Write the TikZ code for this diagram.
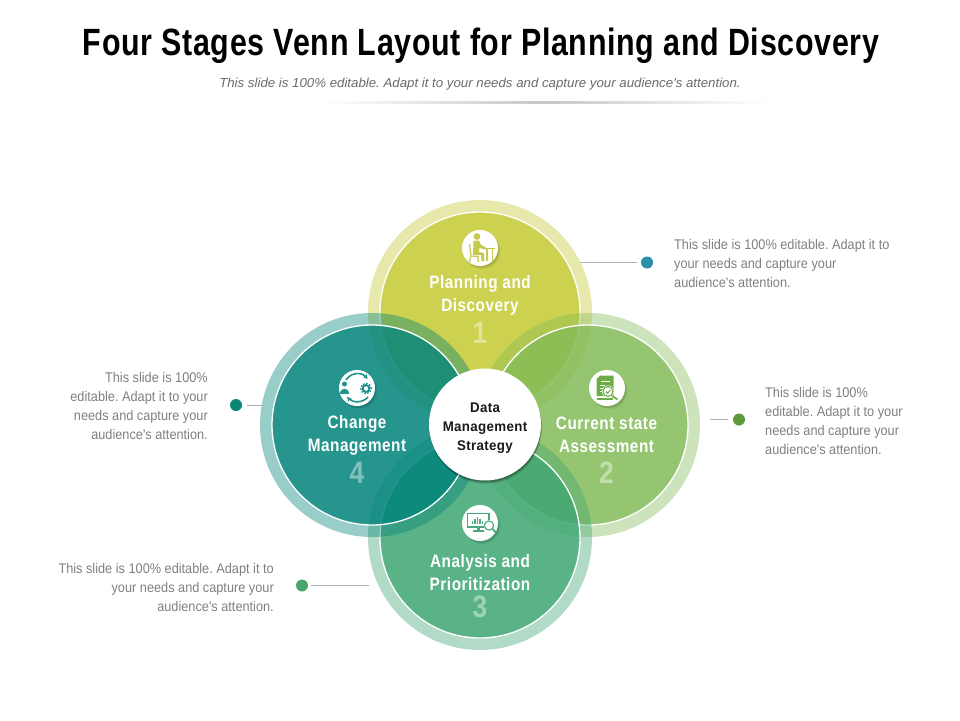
\documentclass[tikz,border=0pt]{standalone}
\usepackage{fontspec}
\usetikzlibrary{arrows.meta}
\setmainfont{Liberation Sans}
\newfontfamily\titlef[FakeStretch=.80,LetterSpace=1.85]{Liberation Sans}
\newfontfamily\headf[FakeStretch=.85,LetterSpace=3]{Liberation Sans}
\newfontfamily\hubf[FakeStretch=.95,LetterSpace=2.5]{Liberation Sans}
\newfontfamily\bodyf[FakeStretch=.91]{Liberation Sans}
\newfontfamily\subf[FakeStretch=1.02]{Liberation Sans}
\frenchspacing
\definecolor{cTop}{RGB}{196,201,49}
\definecolor{cRight}{RGB}{131,187,87}
\definecolor{cBottom}{RGB}{62,166,115}
\definecolor{cLeft}{RGB}{0,131,123}
\definecolor{icT}{RGB}{197,202,74}
\definecolor{icR}{RGB}{108,173,69}
\definecolor{icB}{RGB}{76,167,124}
\definecolor{icL}{RGB}{31,147,140}
\definecolor{d1c}{RGB}{42,143,168}
\definecolor{d2c}{RGB}{94,154,60}
\definecolor{d3c}{RGB}{76,165,107}
\definecolor{d4c}{RGB}{14,133,118}
\tikzset{
  x=1pt,y=-1pt,
  ringfill/.style={fill=#1,fill opacity=.4,even odd rule},
  discfill/.style={fill=#1,fill opacity=.85},
  discline/.style={draw=white,line width=1.3pt},
  headtext/.style={text=white,align=center,font=\headf\bfseries\fontsize{18}{23}\selectfont,inner sep=0pt},
  numtext/.style={text=white,text opacity=.42,font=\headf\bfseries\fontsize{31}{31}\selectfont,inner sep=0pt},
  bodytext/.style={text=black!50,font=\bodyf\fontsize{14}{19}\selectfont,inner sep=0pt},
  dotmark/.style={circle,fill=#1,minimum size=12pt,inner sep=0pt},
  leader/.style={draw=black!32,line width=.7pt},
  iconbg/.style={circle,fill=white,minimum size=36pt,inner sep=0pt},
}
\newcommand{\softshadow}[3]{%
  \fill[black,fill opacity=.06] (#1+2.5,#2+3) circle (#3);
  \fill[black,fill opacity=.10] (#1+1.5,#2+2) circle (#3);
}
\begin{document}
\begin{tikzpicture}
\useasboundingbox (0,0) rectangle (960,720);
\fill[white] (0,0) rectangle (960,720);
\coordinate (cT) at (480,312);
\coordinate (cR) at (588,425);
\coordinate (cB) at (480,538);
\coordinate (cL) at (372,425);

% title
\node[font=\titlef\bfseries\fontsize{38}{38}\selectfont,text=black,inner sep=0pt] (title) at (481,46) {Four Stages Venn Layout for Planning and Discovery};
\node[font=\subf\itshape\fontsize{13}{13}\selectfont,text=black!58,inner sep=0pt] (sub) at (480,84) {This slide is 100\% editable. Adapt it to your needs and capture your audience's attention.};
\shade[left color=white,right color=white,middle color=black!22] (320,101) rectangle (770,103);

% venn
\foreach \c/\k in {cT/cTop,cR/cRight,cB/cBottom,cL/cLeft}{
  \fill[ringfill=\k] (\c) circle (112pt) (\c) circle (100pt);
  \fill[discfill=\k] (\c) circle (100pt);
  \draw[discline] (\c) circle (100pt);
}

% centre
\fill[black,fill opacity=.12] (486,428) circle (56pt);
\fill[black,fill opacity=.28] (485.5,426.5) circle (56pt);
\node[circle,fill=white,minimum size=112pt,inner sep=0pt] (hub) at (485,424.5) {};
\node[align=center,text=black!90,font=\hubf\bfseries\fontsize{14}{19}\selectfont,inner sep=0pt] (hubtext) at (485,428) {Data\\Management\\Strategy};

% icon 1
\softshadow{480}{248}{18pt}
\node[iconbg] (i1) at (480,248) {};
\fill[icT] (477,236.5) circle (3.4pt);
\fill[icT] (473.5,241) -- (479,240.5) -- (481,245) -- (486,247.5) -- (485.5,249.5) -- (479.5,248) -- (479,252) -- (484,253) -- (484.5,261) -- (481.5,261) -- (481,255) -- (473,255) -- cycle;
\draw[icT,line width=1.2pt] (469.5,244) -- (471,256) -- (479,256.5) (471,256) -- (469.5,262) (477.5,256.5) -- (478.5,262);
\draw[icT,line width=1.6pt] (482,248.5) -- (495,248.5);
\draw[icT,line width=1.2pt] (487,248.5) -- (487,261) (492.5,248.5) -- (492.5,261);

% icon 4
\softshadow{357}{388}{18pt}
\node[iconbg] (i4) at (357,388) {};
\draw[icL,line width=1.6pt,-{Stealth[length=4.5pt,width=5pt]}] (346,380) .. controls (351,372) and (362,372) .. (367.5,379);
\draw[icL,line width=1.6pt,-{Stealth[length=4.5pt,width=5pt]}] (368,397) .. controls (363,403) and (353,403) .. (347,397);
\fill[icL] (344.5,384) circle (2.5pt);
\fill[icL] (340,393.5) .. controls (340,386.5) and (349,386.5) .. (349,393.5) -- cycle;
\draw[icL,line width=2pt] (366,388.5) circle (3.4pt);
\draw[icL,line width=1.3pt,dash pattern=on 1.6pt off 1.6pt] (366,388.5) circle (5.3pt);

% icon 2
\softshadow{607}{388}{18pt}
\node[iconbg] (i2) at (607,388) {};
\fill[icR] (600,375.5) -- (613.5,375.5) -- (613.5,396) -- (596.5,396) -- (596.5,379) -- cycle;
\draw[white,line width=.7pt] (601,381) -- (610,381) (600,385) -- (605,385) (600,388) -- (603,388) (600,391) -- (603,391);
\draw[icR,line width=1.4pt] (597,399) -- (613,399);
\draw[icR,line width=1.8pt] (611.5,395.5) -- (617.5,399.5);
\fill[white] (608,391.5) circle (6pt);
\draw[icR,line width=1.1pt] (608,391.5) circle (5pt);
\draw[icR,line width=1pt] (605.8,391.5) -- (607.5,393.2) -- (610.4,389.8);

% icon 3
\softshadow{480}{523}{18pt}
\node[iconbg] (i3) at (480,523) {};
\draw[icB,line width=1.6pt] (467.5,513.5) rectangle (489,527);
\fill[icB] (477,527) rectangle (479.5,531);
\draw[icB,line width=1.5pt] (473,531) -- (484,531);
\draw[icB,line width=1.3pt] (472.5,524) -- (472.5,521) (475,524) -- (475,519) (477.5,524) -- (477.5,517) (480,524) -- (480,518.5) (482.5,524) -- (482.5,520.5);
\fill[white] (489,525.5) circle (5.5pt);
\draw[icB,line width=1.1pt] (489,525.5) circle (4.6pt);
\draw[icB,line width=1.8pt] (492.5,529) -- (496,532.5);

% labels
\node[headtext] (h1) at (480,295.5) {Planning and\\Discovery};
\node[numtext] (n1) at (480,333) {1};
\node[headtext] (h2) at (606.5,435) {Current state\\Assessment};
\node[numtext] (n2) at (606.5,473) {2};
\node[headtext] (h3) at (480,572.5) {Analysis and\\Prioritization};
\node[numtext] (n3) at (480,607) {3};
\node[headtext] (h4) at (357,435) {Change\\Management};
\node[numtext] (n4) at (357,473) {4};

% side text
\node[bodytext,align=left,anchor=west] (t1) at (674,263) {This slide is 100\% editable. Adapt it to\\your needs and capture your\\audience's attention.};
\node[bodytext,align=left,anchor=west] (t2) at (765,420.5) {This slide is 100\%\\editable. Adapt it to your\\needs and capture your\\audience's attention.};
\node[bodytext,align=right,anchor=east] (t4) at (208,405.5) {This slide is 100\%\\editable. Adapt it to your\\needs and capture your\\audience's attention.};
\node[bodytext,align=right,anchor=east] (t3) at (274,587) {This slide is 100\% editable. Adapt it to\\your needs and capture your\\audience's attention.};

% dots and leaders
\node[dotmark=d1c] (d1) at (647,262.5) {};
\node[dotmark=d2c] (d2) at (739,419.5) {};
\node[dotmark=d3c] (d3) at (302,585.5) {};
\node[dotmark=d4c] (d4) at (236,405) {};
\coordinate (e1) at (580,262.5);
\coordinate (e2) at (710,419.5);
\coordinate (e3) at (369,585.5);
\coordinate (e4) at (263,405);
\draw[leader,shorten >=4pt] (e1) -- (d1);
\draw[leader,shorten >=5pt] (e2) -- (d2);
\draw[leader,shorten >=3pt] (e3) -- (d3);
\draw[leader,shorten >=5pt] (e4) -- (d4);
\end{tikzpicture}
\end{document}
